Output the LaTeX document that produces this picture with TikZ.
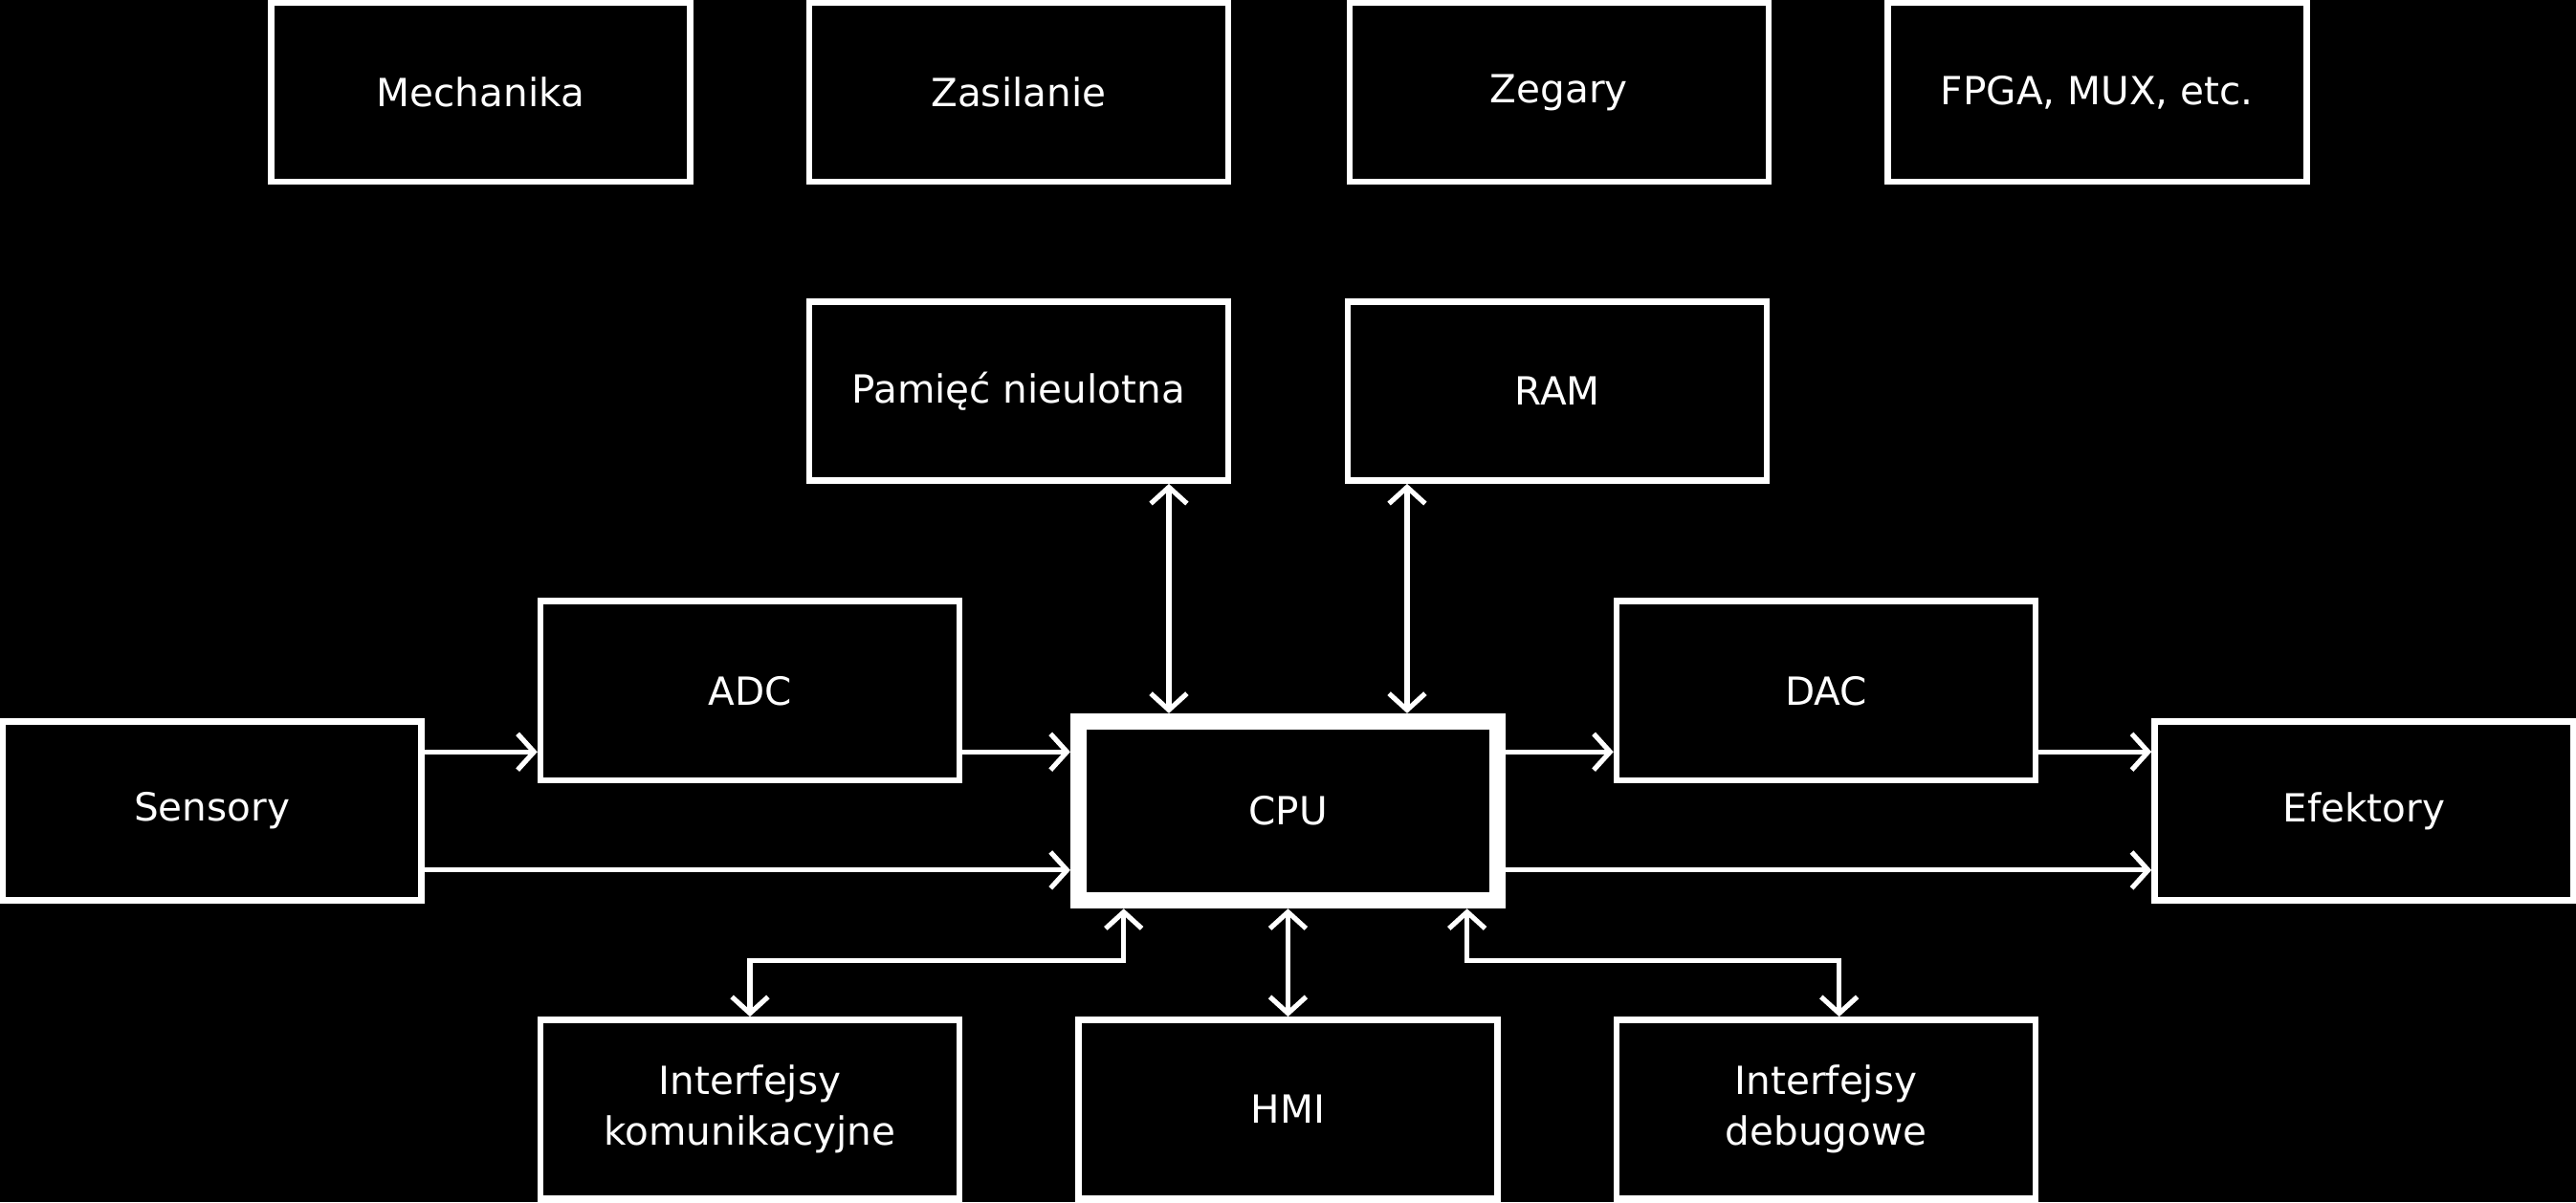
\documentclass[tikz,border=0pt]{standalone}
\usepackage{fontspec}
\setmainfont{DejaVu Sans}
\usepackage{tikz}
\usetikzlibrary{positioning,arrows.meta,calc}
\tikzstyle{line} = [draw=white, line width=1.5pt, -{Straight Barb[length=5pt,width=11pt]}]
\tikzstyle{biline} = [line, {Straight Barb[length=5pt,width=11pt]}-{Straight Barb[length=5pt,width=11pt]}]
\tikzstyle{block} = [rectangle, draw=white, line width=1.9pt, text=white, minimum width=127.5pt, minimum height=54.5pt, align=center, node distance=163.75pt, font=\fontsize{11.8}{15.5}\selectfont]
\tikzstyle{cpublock} = [block, line width=5pt]

\begin{document}
\begin{tikzpicture}
	\path [use as bounding box, fill=black] (-392pt,246.9pt) rectangle (392pt,-119.1pt);

	\node [cpublock] (cpu) {CPU};

	\node [block, left of=cpu, yshift=36.6pt] (adc) {ADC};
	\node [block, left of=adc, yshift=-36.6pt] (sensory) {Sensory};
	\node [block, right of=cpu, yshift=36.6pt] (dac) {DAC};
	\node [block, right of=dac, yshift=-36.6pt] (efektory) {Efektory};

	\node [block, above of=cpu, xshift=-82pt, node distance=127.8pt] (pamiec) {Pamięć nieulotna};
	\node [block, above of=cpu, xshift=82pt, node distance=127.8pt] (ram) {RAM};

	\node [block, above of=pamiec, node distance=91pt] (zasilanie) {Zasilanie};
	\node [block, left of=zasilanie] (mechanika) {Mechanika};
	\node [block, above of=ram, xshift=0.5pt, node distance=91pt] (zegary) {Zegary};
	\node [block, right of=zegary] (fpga) {FPGA, MUX, etc.};

	\node [block, below of=cpu, node distance=90.8pt] (hmi) {HMI};
	\node [block, left of=hmi] (ifkom) {Interfejsy\\komunikacyjne};
	\node [block, right of=hmi] (ifdbg) {Interfejsy\\debugowe};

	\path [line] ([yshift=18pt]sensory.east) -- ([yshift=18pt]sensory.east -| adc.west);
	\path [line] ([yshift=18pt]cpu.west -| adc.east) -- ([yshift=18pt]cpu.west);
	\path [line] ([yshift=-18pt]sensory.east) -- ([yshift=-18pt]cpu.west);

	\path [line] ([yshift=18pt]cpu.east) -- ([yshift=18pt]cpu.east -| dac.west);
	\path [line] ([yshift=18pt]efektory.west -| dac.east) -- ([yshift=18pt]efektory.west);
	\path [line] ([yshift=-18pt]cpu.east) -- ([yshift=-18pt]efektory.west);

	\path [biline] ([xshift=-36.25pt]cpu.north) -- ([xshift=-36.25pt]cpu.north |- pamiec.south);
	\path [biline] ([xshift=36.25pt]cpu.north) -- ([xshift=36.25pt]cpu.north |- ram.south);

	\path [biline] ([xshift=-50pt]cpu.south) -- ++(0,-15.8pt) -| (ifkom.north);
	\path [biline] (cpu.south) -- (hmi.north);
	\path [biline] ([xshift=54.5pt]cpu.south) -- ++(0,-15.8pt) -| ([xshift=4pt]ifdbg.north);
\end{tikzpicture}
\end{document}
